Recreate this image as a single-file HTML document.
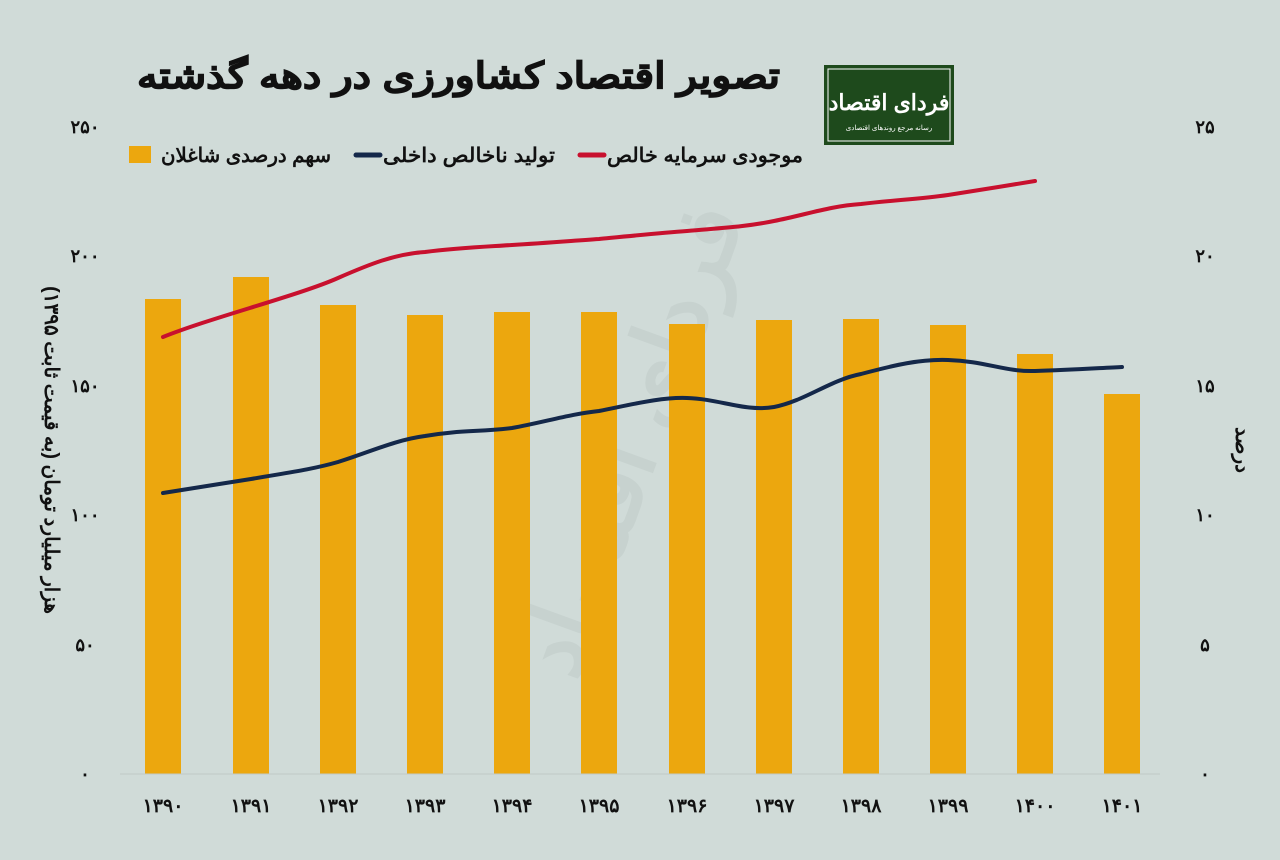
<!DOCTYPE html>
<html><head><meta charset="utf-8"><style>
body{margin:0;background:#d0dbd8;}
svg{display:block;font-family:"Liberation Sans","Noto Sans CJK SC",sans-serif;}
</style></head><body>
<svg width="1280" height="860" viewBox="0 0 1280 860" xmlns="http://www.w3.org/2000/svg">
<rect width="1280" height="860" fill="#d0dbd8"/>
<text x="780" y="88" text-anchor="end" font-size="36" font-weight="bold" fill="#111" stroke="#111" stroke-width="1" textLength="643" lengthAdjust="spacingAndGlyphs">تصویر اقتصاد کشاورزی در دهه گذشته</text>
<rect x="824" y="65" width="130" height="80" fill="#1e4a1c"/>
<rect x="828" y="69" width="122" height="72" fill="none" stroke="#fff" stroke-width="1"/>
<text x="889" y="110" text-anchor="middle" font-size="22" font-weight="bold" fill="#fff">فردای اقتصاد</text>
<text x="889" y="130" text-anchor="middle" font-size="7" fill="#fff">رسانه مرجع روندهای اقتصادی</text>
<!-- watermark -->
<text x="660" y="450" text-anchor="middle" font-size="90" font-weight="bold" fill="#b8c4c0" opacity="0.35" transform="rotate(-70 660 450)">فردای اقتصاد</text>
<!-- legend -->
<g font-size="20" font-weight="bold" fill="#111">
<rect x="129" y="146" width="22" height="17" fill="#eca70e"/>
<text x="331" y="162" text-anchor="end" textLength="170" lengthAdjust="spacingAndGlyphs">سهم درصدی شاغلان</text>
<line x1="356" y1="155" x2="380" y2="155" stroke="#14284a" stroke-width="5" stroke-linecap="round"/>
<text x="555" y="162" text-anchor="end" textLength="172" lengthAdjust="spacingAndGlyphs">تولید ناخالص داخلی</text>
<line x1="580" y1="155" x2="604" y2="155" stroke="#c8102e" stroke-width="5" stroke-linecap="round"/>
<text x="803" y="162" text-anchor="end" textLength="196" lengthAdjust="spacingAndGlyphs">موجودی سرمایه خالص</text>
</g>
<!-- axes labels -->
<g font-size="18" font-weight="bold" fill="#111" text-anchor="middle">
<text x="85" y="133">۲۵۰</text><text x="85" y="262">۲۰۰</text><text x="85" y="392">۱۵۰</text><text x="85" y="521">۱۰۰</text><text x="85" y="651">۵۰</text><text x="85" y="780">۰</text>
<text x="1205" y="133">۲۵</text><text x="1205" y="262">۲۰</text><text x="1205" y="392">۱۵</text><text x="1205" y="521">۱۰</text><text x="1205" y="651">۵</text><text x="1205" y="780">۰</text>
</g>
<text transform="translate(45 450) rotate(90)" text-anchor="middle" font-size="20" font-weight="bold" fill="#111" direction="rtl">هزار میلیارد تومان (به قیمت ثابت ۱۳۹۵)</text>
<text transform="translate(1236 450) rotate(90)" text-anchor="middle" font-size="20" font-weight="bold" fill="#111">درصد</text>
<!-- bars -->
<g fill="#eca70e">
<rect x="145" y="299" width="36" height="475"/>
<rect x="233" y="277" width="36" height="497"/>
<rect x="320" y="305" width="36" height="469"/>
<rect x="407" y="315" width="36" height="459"/>
<rect x="494" y="312" width="36" height="462"/>
<rect x="581" y="312" width="36" height="462"/>
<rect x="669" y="324" width="36" height="450"/>
<rect x="756" y="320" width="36" height="454"/>
<rect x="843" y="319" width="36" height="455"/>
<rect x="930" y="325" width="36" height="449"/>
<rect x="1017" y="354" width="36" height="420"/>
<rect x="1104" y="394" width="36" height="380"/>
</g>
<line x1="120" y1="774" x2="1160" y2="774" stroke="#bfc9c6" stroke-width="1"/>
<path d="M163,337 C210,318 300,295 338,278 C370,264 395,254 425,252 C455,248 480,247 512,245 C545,243 570,241 599,239 C630,236 660,233 687,231 C720,228 745,227 774,221 C805,215 830,206 861,204 C895,200 920,199 948,195 C980,190 1005,186 1035,181" fill="none" stroke="#c8102e" stroke-width="4" stroke-linecap="round"/>
<path d="M163,493 C200,487 220,484 251,479 C285,473 310,470 338,462 C370,452 395,440 425,436 C460,430 480,432 512,428 C545,422 570,414 599,411 C630,405 660,397 687,398 C720,399 745,412 774,407 C805,401 830,380 861,374 C895,365 920,359 948,360 C985,361 1005,372 1035,371 C1070,370 1100,368 1122,367" fill="none" stroke="#14284a" stroke-width="4" stroke-linecap="round"/>
<g font-size="19" font-weight="bold" fill="#111" text-anchor="middle">
<text x="163" y="812">۱۳۹۰</text><text x="251" y="812">۱۳۹۱</text><text x="338" y="812">۱۳۹۲</text><text x="425" y="812">۱۳۹۳</text><text x="512" y="812">۱۳۹۴</text><text x="599" y="812">۱۳۹۵</text><text x="687" y="812">۱۳۹۶</text><text x="774" y="812">۱۳۹۷</text><text x="861" y="812">۱۳۹۸</text><text x="948" y="812">۱۳۹۹</text><text x="1035" y="812">۱۴۰۰</text><text x="1122" y="812">۱۴۰۱</text>
</g>
</svg>
</body></html>
